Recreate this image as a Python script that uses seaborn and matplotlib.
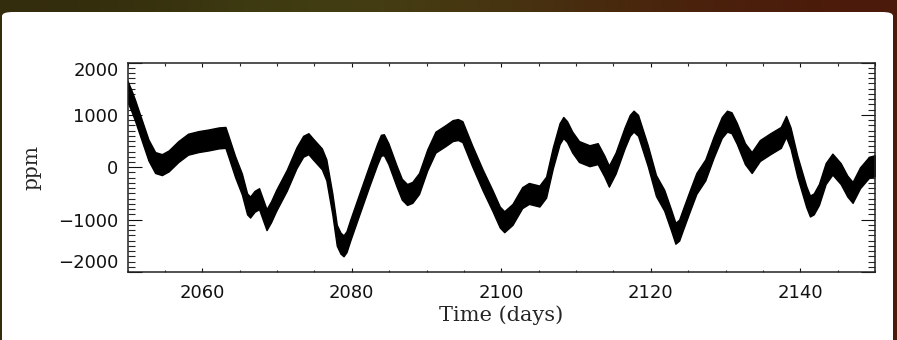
import numpy as np
import pandas as pd
import matplotlib
matplotlib.use("Agg")
import matplotlib.pyplot as plt
from matplotlib.patches import FancyBboxPatch
from matplotlib.ticker import MultipleLocator
import seaborn as sns

# light curve (band centre, ppm)
time_days = [2050.0, 2050.5, 2051.0, 2051.9, 2052.8, 2053.7, 2054.6, 2055.5, 2056.8, 2058.1,
             2059.5, 2060.8, 2062.2, 2063.1, 2063.5, 2064.4, 2065.3, 2066.0, 2066.4, 2067.0,
             2067.6, 2068.1, 2068.6, 2069.2, 2069.9, 2071.3, 2072.6, 2073.5, 2074.2, 2074.8,
             2076.0, 2076.6, 2077.4, 2078.0, 2078.5, 2078.9, 2079.3, 2079.8, 2080.9, 2082.3,
             2083.4, 2083.9, 2084.3, 2084.9, 2086.0, 2086.7, 2087.4, 2088.1, 2089.0, 2090.1,
             2091.2, 2092.5, 2093.5, 2094.2, 2094.8, 2096.1, 2097.5, 2098.8, 2099.8, 2100.4,
             2101.5, 2102.8, 2103.7, 2105.1, 2106.0, 2106.9, 2107.8, 2108.3, 2108.8, 2109.5,
             2110.4, 2111.8, 2112.9, 2113.8, 2114.4, 2115.3, 2116.5, 2117.2, 2117.7, 2118.3,
             2119.6, 2120.7, 2121.8, 2122.7, 2123.3, 2123.8, 2124.3, 2125.2, 2126.1, 2127.3,
             2128.4, 2129.5, 2130.2, 2130.8, 2131.5, 2132.6, 2133.5, 2134.6, 2136.0, 2137.4,
             2138.1, 2138.7, 2139.6, 2140.8, 2141.3, 2141.8, 2142.5, 2143.4, 2144.3, 2145.4,
             2146.3, 2147.0, 2148.0, 2149.2, 2150.0]
flux_ppm = [1450, 1280, 1090, 710, 330, 90, 50, 120, 300, 440,
            490, 520, 560, 570, 400, 10, -320, -700, -760, -650,
            -600, -800, -1000, -850, -630, -250, 180, 400, 450, 350,
            160, -50, -700, -1300, -1450, -1500, -1420, -1200, -750, -180,
            250, 420, 430, 260, -170, -420, -520, -480, -310, 140,
            480, 600, 700, 720, 680, 220, -240, -630, -950, -1040,
            -900, -580, -500, -550, -380, 180, 640, 760, 680, 480,
            300, 220, 260, 20, -170, 80, 560, 800, 880, 800,
            220, -350, -630, -1000, -1260, -1200, -1000, -650, -310, -50,
            380, 760, 880, 850, 650, 260, 90, 320, 450, 570,
            780, 560, 20, -560, -740, -700, -520, -120, 60, -120,
            -360, -480, -200, 0, 30]
noise_halfwidth = 200  # half thickness of the noisy band, ppm

df = pd.DataFrame({"time": time_days, "flux": flux_ppm})

sns.set_style("ticks")
plt.rcParams['font.family'] = ['DejaVu Sans']

fig = plt.figure(figsize=(8.97, 3.4), dpi=100)

# dark frame strip behind a white rounded panel
bg = fig.add_axes([0, 0, 1, 1], zorder=-2)
grad = np.array([[[0.20, 0.17, 0.05], [0.27, 0.27, 0.08], [0.28, 0.18, 0.06], [0.30, 0.10, 0.04]]])
bg.imshow(grad, aspect='auto', extent=[0, 1, 0, 1], interpolation='bicubic')
bg.set_axis_off()
panel = FancyBboxPatch((2 / 897, -0.1), 891 / 897, 1.1 - 12 / 340,
                       boxstyle="round,pad=0,rounding_size=0.012",
                       transform=fig.transFigure, facecolor='white', edgecolor='none', zorder=-1)
fig.patches.append(panel)

ax = fig.add_axes([127.5 / 897, 1 - 272 / 340, 747.5 / 897, 209.5 / 340])
ax.set_facecolor('none')

ax.fill_between(df["time"], df["flux"] - noise_halfwidth, df["flux"] + noise_halfwidth,
                color='black', linewidth=1.0, edgecolor='black')
sns.lineplot(data=df, x="time", y="flux", color='black', linewidth=1.0, ax=ax)

ax.set_xlim(2050, 2150)
ax.set_ylim(-2000, 2000)
ax.xaxis.set_major_locator(MultipleLocator(20))
ax.xaxis.set_minor_locator(MultipleLocator(5))
ax.yaxis.set_major_locator(MultipleLocator(1000))
ax.yaxis.set_minor_locator(MultipleLocator(100))

for s in ax.spines.values():
    s.set_linewidth(1.1)
    s.set_color('#222222')

ax.tick_params(axis='x', which='major', direction='in', length=3.2, width=0.8,
               top=True, bottom=True, pad=9, labelsize=13, colors='#111111')
ax.tick_params(axis='x', which='minor', direction='in', length=1.8, width=0.8,
               top=True, bottom=True)
ax.tick_params(axis='y', which='major', direction='in', length=10, width=0.8,
               left=True, right=True, pad=6.5, labelsize=13, colors='#111111')
ax.tick_params(axis='y', which='minor', direction='in', length=5, width=0.8,
               left=True, right=True)

ax.set_xlabel("Time (days)", family='DejaVu Serif', fontsize=15, labelpad=2)
ax.set_ylabel("ppm", family='DejaVu Serif', fontsize=14.5, labelpad=12)

ax.set_yticks([-2000, -1000, 0, 1000, 2000])
labels = ax.get_yticklabels()
labels[0].set_va('bottom')
labels[-1].set_va('top')

fig.savefig("out.png", dpi=100)
